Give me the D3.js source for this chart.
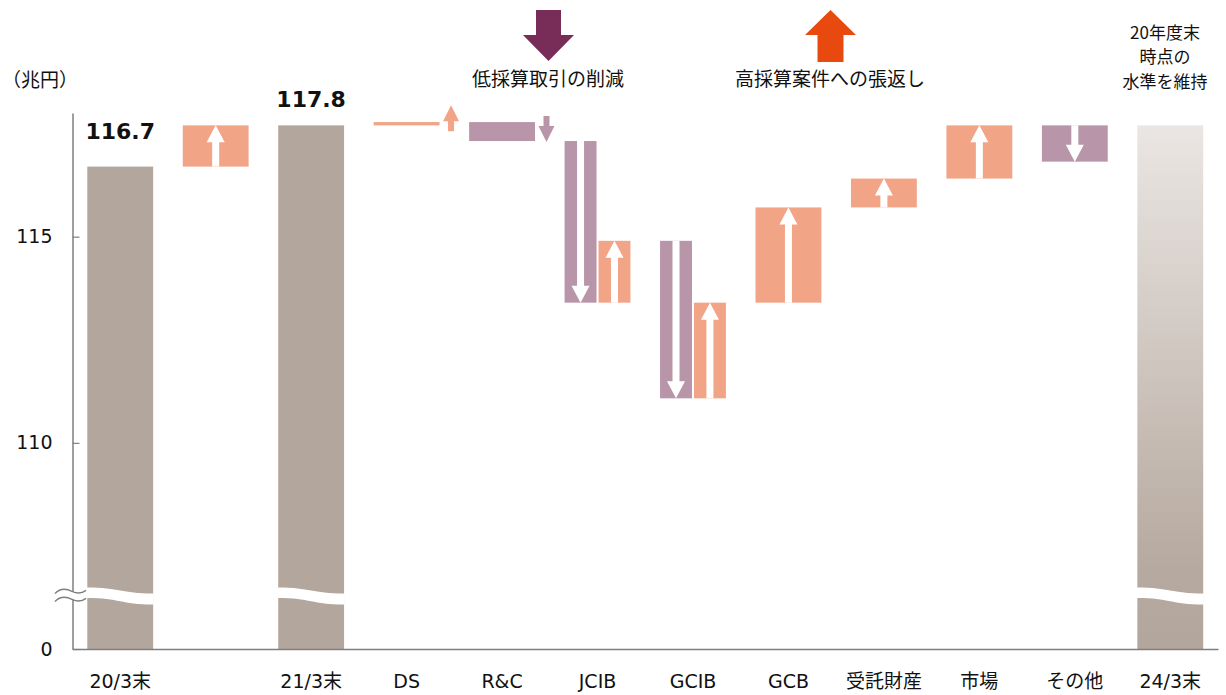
<!DOCTYPE html>
<html><head><meta charset="utf-8">
<script src="https://cdn.jsdelivr.net/npm/d3@7"></script>
<style>
html,body{margin:0;padding:0;background:#fff;}
svg{display:block;}
</style></head>
<body>
<svg id="chart" width="1226" height="695"></svg>
<script>
// ---- data ----
const categories = ["20/3末", "", "21/3末", "DS", "R&C", "JCIB", "GCIB", "GCB", "受託財産", "市場", "その他", "24/3末"];
const totalCats = ["20/3末", "21/3末", "24/3末"];
const totalValues = [116.7, 117.7, 117.7];
const totalLabels = ["116.7", "117.8", ""];
const stepCats = ["", "DS", "R&C", "JCIB", "JCIB", "GCIB", "GCIB", "GCB", "受託財産", "市場", "その他"];
const stepFrom = [116.7, 117.70, 117.78, 117.32, 113.40, 114.90, 111.08, 113.40, 115.71, 116.41, 117.70];
const stepTo   = [117.7, 117.78, 117.32, 113.40, 114.90, 111.08, 113.40, 115.71, 116.41, 117.70, 116.82];
const yTicks = [0, 110, 115];
const unitLabel = "（兆円）";
const legendDownLabel = "低採算取引の削減";
const legendUpLabel = "高採算案件への張返し";
const noteLines = ["20年度末", "時点の", "水準を維持"];

// ---- styles ----
const C_TOTAL = "#b3a69c", C_UP = "#f2a487", C_DOWN = "#b995aa";
const C_LEG_DOWN = "#772d57", C_LEG_UP = "#e8490f", C_AXIS = "#7f7f7f";
const CJK = "'Noto Sans CJK JP', 'Noto Sans', sans-serif";
const NUM = "'DejaVu Sans', Verdana, sans-serif";
const MIX = "'DejaVu Sans', 'Noto Sans CJK JP', sans-serif";

const svg = d3.select("#chart");
const left = 72.5, right = 1218, bottom = 649;

const x = d3.scaleBand().domain(d3.range(categories.length))
  .range([left, right]).paddingInner(0.31).paddingOuter(0.155);
const y = d3.scaleLinear().domain([0, 105, 118]).range([bottom, bottom, 113]);
const breakVal = 106.3;

const idx = c => categories.indexOf(c);

function arrowPath(cx, y0, y1, sw, hw, hh) {
  const dir = Math.sign(y1 - y0);
  const yb = y1 - dir * hh;
  return `M${cx - sw/2},${y0}L${cx - sw/2},${yb}L${cx - hw/2},${yb}L${cx},${y1}L${cx + hw/2},${yb}L${cx + sw/2},${yb}L${cx + sw/2},${y0}Z`;
}

// gradient for last bar
const defs = svg.append("defs");
const grad = defs.append("linearGradient").attr("id", "g24").attr("x1", 0).attr("y1", 0).attr("x2", 0).attr("y2", 1);
grad.append("stop").attr("offset", "0%").attr("stop-color", "#eae6e3");
grad.append("stop").attr("offset", "85%").attr("stop-color", "#b6a99f");
grad.append("stop").attr("offset", "100%").attr("stop-color", "#b3a69c");

// ---- total bars ----
const totals = totalCats.map((c, i) => ({cat: c, v: totalValues[i], label: totalLabels[i], i}));
svg.append("g").selectAll("rect").data(totals).join("rect")
  .attr("x", d => x(idx(d.cat)))
  .attr("width", x.bandwidth())
  .attr("y", d => y(d.v))
  .attr("height", d => y(0) - y(d.v))
  .attr("fill", d => d.i === totals.length - 1 ? "url(#g24)" : C_TOTAL);

// break bands
svg.append("g").selectAll("path").data(totals).join("path")
  .attr("fill", "#fff")
  .attr("d", d => {
    const x0 = x(idx(d.cat)) - 0.5, x1 = x0 + x.bandwidth() + 1, xm = (x0 + x1) / 2;
    const yc = y(breakVal);
    const t0 = yc - 8, t1 = yc - 2, b0 = yc + 2.5, b1 = yc + 9;
    return `M${x0},${t0}C${xm},${t0} ${xm},${t1} ${x1},${t1}L${x1},${b1}C${xm},${b1} ${xm},${b0} ${x0},${b0}Z`;
  });

// value labels
const labelOffsets = [28, 18, 18];
svg.append("g").selectAll("text").data(totals.filter(d => d.label)).join("text")
  .attr("x", d => x(idx(d.cat)) + x.bandwidth() / 2)
  .attr("y", d => y(d.v) - labelOffsets[d.i])
  .attr("text-anchor", "middle")
  .attr("font-family", NUM).attr("font-weight", "bold").attr("font-size", 22)
  .attr("fill", "#111")
  .text(d => d.label);

// ---- step bars ----
const counts = {};
stepCats.forEach(c => counts[c] = (counts[c] || 0) + 1);
const seen = {};
const steps = stepCats.map((c, i) => {
  const n = counts[c], k = (seen[c] = (seen[c] || 0) + 1) - 1;
  const bw = x.bandwidth(), gap = 2;
  const w = n > 1 ? (bw - gap * (n - 1)) / n : bw;
  const bx = x(idx(c)) + k * (w + gap);
  const up = stepTo[i] > stepFrom[i];
  return {c, from: stepFrom[i], to: stepTo[i], x: bx, w, up};
});

const gSteps = svg.append("g");
steps.forEach(s => {
  const yS = y(s.from), yE = y(s.to);
  const top = Math.min(yS, yE), h = Math.abs(yS - yE);
  const col = s.up ? C_UP : C_DOWN;
  gSteps.append("rect").attr("x", s.x).attr("y", top).attr("width", s.w).attr("height", Math.max(h, 3)).attr("fill", col);
  if (h > 25) {
    gSteps.append("path").attr("fill", "#fff")
      .attr("d", arrowPath(s.x + s.w / 2, yS, yE, 7, 18, 17));
  } else {
    const dir = s.up ? -1 : 1;
    const startEdge = s.up ? Math.max(yS, top + Math.max(h, 3)) : top;
    const base = startEdge - dir * 6;
    gSteps.append("path").attr("fill", col)
      .attr("d", arrowPath(s.x + s.w + 11.5, base, base + dir * 26, 6, 16, 16));
  }
});

// ---- axes ----
const xAxis = d3.axisBottom(x).tickSize(0).tickSizeOuter(0)
  .tickFormat(i => categories[i]);
const gx = svg.append("g").attr("transform", `translate(0,${bottom})`).call(xAxis);
gx.select(".domain").attr("stroke", C_AXIS).attr("stroke-width", 1.5);
gx.selectAll("text").attr("font-family", MIX).attr("font-size", 19).attr("fill", "#111")
  .attr("y", 39).attr("dy", 0);

const yAxis = d3.axisLeft(y).tickValues(yTicks).tickSizeInner(-7).tickSizeOuter(0).tickPadding(20)
  .tickFormat(d3.format("d"));
const gy = svg.append("g").attr("transform", `translate(${left},0)`).call(yAxis);
gy.select(".domain").attr("stroke", C_AXIS).attr("stroke-width", 1.5);
gy.selectAll(".tick line").attr("stroke", C_AXIS).attr("stroke-width", 1.2);
gy.selectAll("text").attr("font-family", NUM).attr("font-size", 19).attr("fill", "#111");

// axis break marks
const yb = y(breakVal);
svg.append("rect").attr("x", left - 2).attr("y", yb - 4).attr("width", 4).attr("height", 8).attr("fill", "#fff");
[-4, 4].forEach(o => {
  const yy = yb + o;
  svg.append("path").attr("fill", "none").attr("stroke", C_AXIS).attr("stroke-width", 1.4)
    .attr("d", `M55,${yy + 2}C60,${yy - 3} 66,${yy - 3} 72,${yy}C78,${yy + 3} 82,${yy + 2} 86,${yy - 1}`);
});

// unit label
svg.append("text").attr("x", 2).attr("y", 87).attr("font-family", CJK).attr("font-size", 19).attr("fill", "#111").text(unitLabel);

// ---- legend annotations ----
svg.append("path").attr("fill", C_LEG_DOWN).attr("d", arrowPath(548.5, 10, 61, 25, 51, 26));
svg.append("text").attr("x", 548).attr("y", 86).attr("text-anchor", "middle")
  .attr("font-family", CJK).attr("font-size", 19).attr("fill", "#111").text(legendDownLabel);
svg.append("path").attr("fill", C_LEG_UP).attr("d", arrowPath(830.5, 62, 10, 26, 51, 25));
svg.append("text").attr("x", 830).attr("y", 86).attr("text-anchor", "middle")
  .attr("font-family", CJK).attr("font-size", 19).attr("fill", "#111").text(legendUpLabel);

const note = svg.append("text").attr("text-anchor", "middle")
  .attr("font-family", CJK).attr("font-size", 17).attr("fill", "#111");
note.selectAll("tspan").data(noteLines).join("tspan")
  .attr("x", 1165).attr("y", (d, i) => 38.5 + i * 24.8).text(d => d);
</script>
</body></html>
